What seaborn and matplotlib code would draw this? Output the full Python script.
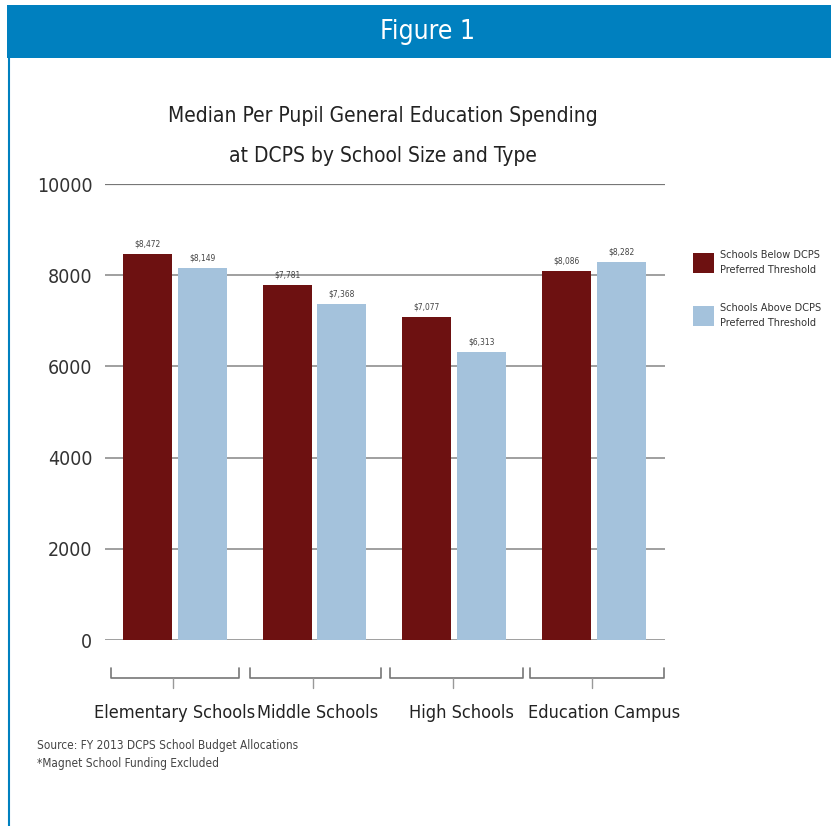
import matplotlib
matplotlib.use("Agg")
import matplotlib.pyplot as plt
import matplotlib.transforms as mtrans
from matplotlib.patches import Rectangle
from matplotlib.lines import Line2D
import seaborn as sns
import pandas as pd
from matplotlib import font_manager

categories = ["Elementary Schools", "Middle Schools", "High Schools", "Education Campus"]
series_names = ["Schools Below DCPS\nPreferred Threshold", "Schools Above DCPS\nPreferred Threshold"]
below_values = [8472, 7781, 7077, 8086]
above_values = [8149, 7368, 6313, 8282]
yticks = [0, 2000, 4000, 6000, 8000, 10000]

sns.set_theme(style="white")
plt.rcParams["font.family"] = ["DejaVu Sans"]
plt.rcParams["font.stretch"] = "condensed"

df = pd.DataFrame({
    "category": categories * 2,
    "series": [series_names[0]] * 4 + [series_names[1]] * 4,
    "value": below_values + above_values,
})

dark_red = "#6d1111"
light_blue = "#a4c2dc"
W, H = 831, 826

fig = plt.figure(figsize=(8.31, 8.26), dpi=100)
fig.patch.set_facecolor("white")

# header band
fig.patches.append(Rectangle((7 / W, 1 - 58 / H), 1, 53 / H, transform=fig.transFigure,
                             facecolor="#0080bf", edgecolor="none", zorder=0))
fig.text(428 / W, 1 - 32 / H, "Figure 1", color="white", fontsize=19, ha="center", va="center",
         fontstretch="condensed")
fig.add_artist(Line2D([8.5 / W, 8.5 / W], [0, 1 - 58 / H], transform=fig.transFigure,
                      color="#0080bf", lw=1.5))

ax = fig.add_axes([105 / W, 1 - 640 / H, 560 / W, 456 / H])
sns.barplot(data=df, x="category", y="value", hue="series", hue_order=series_names,
            palette=[dark_red, light_blue], width=0.78, gap=0.1, ax=ax, legend=True,
            saturation=1, zorder=3, linewidth=0)

ax.set_ylim(0, 10000)
ax.set_xlim(-0.50, 3.51)
ax.set_yticks(yticks)
ax.set_yticklabels([str(t) for t in yticks], fontsize=14, color="#333333")
ax.yaxis.grid(True, color="#8f8f8f", lw=1.2, zorder=0)
ax.axhline(10000, color="#777777", lw=1.6, zorder=1)
ax.set_axisbelow(True)
for s in ax.spines.values():
    s.set_visible(False)
ax.tick_params(axis="y", length=0, pad=9)
ax.set_xticks(range(len(categories)))
ax.set_xticklabels([])
ax.tick_params(axis="x", length=0)
ax.set_xlabel("")
ax.set_ylabel("")

for cont, vals in zip(ax.containers, [below_values, above_values]):
    ax.bar_label(cont, labels=[f"${v:,}" for v in vals], fontsize=6, color="#444444", padding=4)

# brackets beneath each category
trans = mtrans.blended_transform_factory(ax.transData, ax.transAxes)
y_br = -38 / 456
y_end = -28 / 456
y_mid = -48 / 456
for i, cat in enumerate(categories):
    x0, x1 = i - 0.46, i + 0.46 + 0.015 * i
    ax.add_line(Line2D([x0, x0, x1, x1], [y_end, y_br, y_br, y_end], transform=trans,
                       color="#777777", lw=1.2, clip_on=False))
    ax.add_line(Line2D([i - 0.01, i - 0.01], [y_br, y_mid], transform=trans, color="#999999",
                       lw=1, clip_on=False))
    ax.text(i + 0.025 * i, -73 / 456, cat, transform=trans, ha="center", va="center",
            fontsize=13, color="#222222", fontstretch="condensed")

fig.text(383 / W, 1 - 136 / H,
         "Median Per Pupil General Education Spending\nat DCPS by School Size and Type",
         fontsize=15, color="#222222", ha="center", va="center", linespacing=2.2,
         fontstretch="condensed")

leg = ax.legend(loc="upper left", bbox_to_anchor=(683 / W, 1 - 240 / H),
                bbox_transform=fig.transFigure, frameon=False,
                prop=font_manager.FontProperties(family="DejaVu Sans", stretch="condensed", size=7.8),
                handlelength=2.0, handleheight=2.5, labelspacing=2.6, handletextpad=0.5)
for t in leg.get_texts():
    t.set_color("#333333")
    t.set_linespacing(1.6)

fig.text(37 / W, 1 - 745 / H, "Source: FY 2013 DCPS School Budget Allocations",
         fontsize=8.5, color="#444444", va="center")
fig.text(37 / W, 1 - 763 / H, "*Magnet School Funding Excluded",
         fontsize=8.5, color="#444444", va="center")

fig.savefig("out.png", dpi=100)
